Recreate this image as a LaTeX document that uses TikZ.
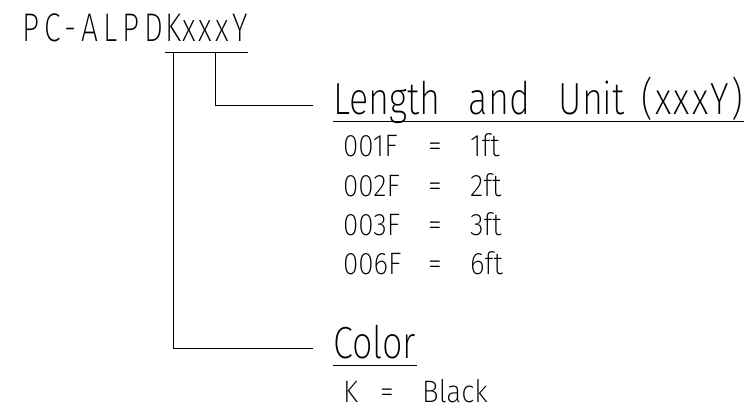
\documentclass[tikz,border=0pt]{standalone}
\usepackage{fontspec}
\IfFontExistsTF{Fira Sans ExtraLight}{%
  \newfontfamily\cadfont{Fira Sans ExtraLight}[FakeStretch=0.9]%
  \newfontfamily\cadheadfont{Fira Sans ExtraLight}[FakeStretch=0.8,WordSpace=2.8]%
  \newfontfamily\cadtitlefont{Fira Sans ExtraLight}[FakeStretch=0.75,LetterSpace=13]%
}{%
  \newfontfamily\cadfont{lmsans10-regular.otf}[FakeStretch=0.9]%
  \newfontfamily\cadheadfont{lmsans10-regular.otf}[FakeStretch=0.8,WordSpace=2.8]%
  \newfontfamily\cadtitlefont{lmsans10-regular.otf}[FakeStretch=0.75,LetterSpace=13]%
}
\tikzset{
  cadline/.style={line width=0.9pt, line cap=rect},
  titletext/.style={inner sep=0pt, anchor=base west, font=\cadtitlefont\fontsize{40}{40}\selectfont},
  headtext/.style={inner sep=0pt, anchor=base west, font=\cadheadfont\fontsize{45}{45}\selectfont},
  itemtext/.style={inner sep=0pt, anchor=base west, font=\cadfont\fontsize{31}{31}\selectfont}
}

\begin{document}
\begin{tikzpicture}[x=1pt, y=1pt]
\useasboundingbox (0,0) rectangle (752,413);

% part number
\node[titletext] (pn) at (22,371) {PC-ALPD};
\node[titletext] (kk) at ([xshift=2pt]pn.base east) {K};
\node[titletext] (xy) at (kk.base east) {\addfontfeatures{LetterSpace=8}xxxY};

% length and unit
\node[headtext] (lenhead) at (333,298)
  {Length and Unit\hspace{17pt}{\addfontfeatures{LetterSpace=5}(xxxY)}};
\foreach \code/\feet [count=\i] in {001F/1ft, 002F/2ft, 003F/3ft, 006F/6ft}
  \node[itemtext] (len\i) at (343,295-39*\i)
    {\makebox[85pt][l]{\code}\makebox[42pt][l]{=}\feet};

% color
\node[headtext] (colhead) at (333,55) {Color};
\node[itemtext] (col1) at (343,11) {\makebox[37pt][l]{K}\makebox[42pt][l]{=}Black};

\draw[cadline] ([yshift=-10pt]kk.base west) -- ([yshift=-10pt]kk.base east);
\draw[cadline] ([yshift=-10pt]xy.base west) -- ([yshift=-10pt]xy.base east);
\draw[cadline] ([yshift=-10pt]kk.base) |- ([xshift=-20pt,yshift=10pt]colhead.base west);
\draw[cadline] ([yshift=-10pt]xy.base) |- ([xshift=-20pt,yshift=10pt]lenhead.base west);

\draw[cadline] ([yshift=-6pt]lenhead.base west) -- ([yshift=-6pt]lenhead.base east);
\draw[cadline] ([yshift=-7pt]colhead.base west) -- ([yshift=-7pt]colhead.base east);

\end{tikzpicture}
\end{document}
